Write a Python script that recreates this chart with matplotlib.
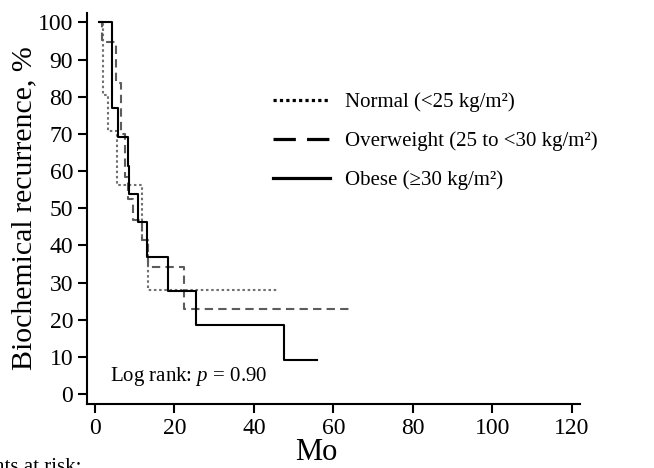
import matplotlib
matplotlib.use("Agg")
import matplotlib.pyplot as plt
from matplotlib.lines import Line2D

# Kaplan-Meier style step data (months, % free of biochemical recurrence)
normal_t = [1.0, 2.1, 3.3, 5.6, 11.8, 13.4, 46.1]
normal_s = [100, 80.4, 70.9, 56.3, 41.4, 28.0, 28.0]

overweight_t = [1.0, 1.7, 5.4, 6.5, 7.5, 8.3, 9.6, 11.8, 13.3, 22.3, 64.7]
overweight_s = [100, 94.7, 83.6, 70.1, 58.5, 52.6, 46.8, 41.4, 34.3, 23.0, 23.0]

obese_t = [1.0, 4.2, 5.9, 8.4, 8.7, 10.9, 13.0, 18.3, 25.4, 47.6, 55.8]
obese_s = [100, 76.9, 69.2, 61.5, 53.8, 46.2, 36.9, 27.7, 18.5, 9.2, 9.2]

labels = ["Normal (<25 kg/m²)", "Overweight (25 to <30 kg/m²)", "Obese (≥30 kg/m²)"]
x_ticks = [0, 20, 40, 60, 80, 100, 120]
y_ticks = [0, 10, 20, 30, 40, 50, 60, 70, 80, 90, 100]

plt.rcParams['font.family'] = ['Liberation Serif', 'DejaVu Serif']
plt.rcParams['mathtext.fontset'] = 'custom'
plt.rcParams['mathtext.rm'] = 'Liberation Serif'
plt.rcParams['mathtext.it'] = 'Liberation Serif:italic'

fig = plt.figure(figsize=(6.54, 4.68), dpi=100)
ax = fig.add_axes([0.133, 0.137, 0.754, 0.835])

ax.step(normal_t, normal_s, where='post', color='#707070', lw=1.5,
        linestyle=(0, (1.2, 1.3)))
ax.step(overweight_t, overweight_s, where='post', color='#5c5c5c', lw=1.5,
        linestyle=(0, (4, 2.5)))
ax.step(obese_t, obese_s, where='post', color='black', lw=1.5)

ax.set_xlim(-2.0, 122.1)
ax.set_ylim(-2.6, 102.5)
ax.set_xticks(x_ticks)
ax.set_yticks(y_ticks)

for side in ['top', 'right']:
    ax.spines[side].set_visible(False)
for side in ['left', 'bottom']:
    ax.spines[side].set_linewidth(1.5)
ax.tick_params(axis='both', direction='out', length=6.5, width=1.5,
               labelsize=17, pad=3.5)

ax.set_ylabel("Biochemical recurrence, %", fontsize=21.5, labelpad=0)
ax.set_xlabel("Mo", fontsize=22)
ax.xaxis.set_label_coords(0.465, -0.088)

handles = [
    Line2D([], [], color='black', lw=2.3, linestyle=(0, (1, 1))),
    Line2D([], [], color='black', lw=2.3, linestyle=(0, (7, 3.5))),
    Line2D([], [], color='black', lw=2.3),
]
ax.legend(handles, labels, loc='upper left', bbox_to_anchor=(0.377, 0.797),
          frameon=False, fontsize=15, handlelength=2.75, handletextpad=0.7,
          labelspacing=0.92, borderpad=0, borderaxespad=0)

ax.text(0.047, 0.07, "Log rank: $p$ = 0.90", transform=ax.transAxes,
        fontsize=15, ha='left', va='center')

fig.text(82 / 654, 1 - 458 / 468, "Patients at risk:", fontsize=15,
         ha='right', va='top')

fig.savefig("out.png", dpi=100)
